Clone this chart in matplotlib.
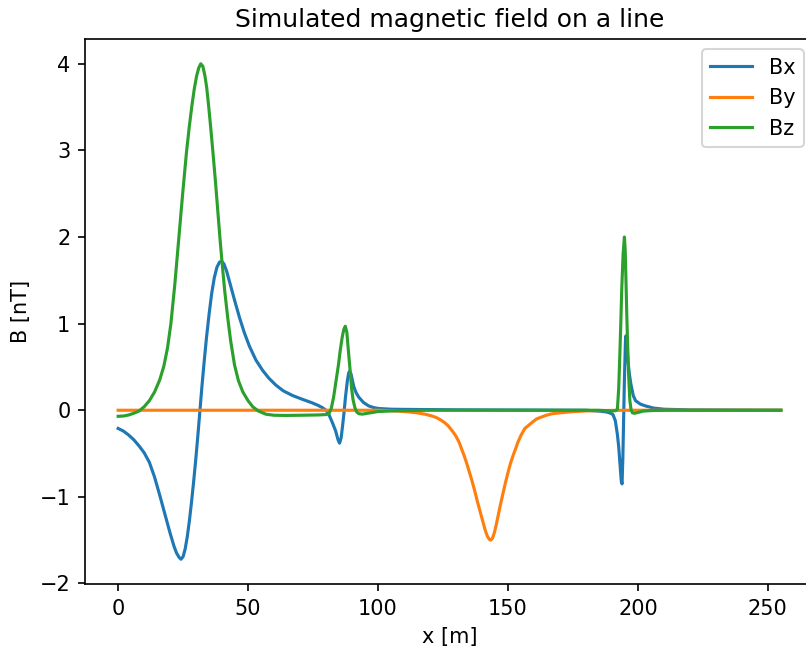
import matplotlib
matplotlib.use("Agg")
import matplotlib.pyplot as plt

# Bx series (x in m, value in nT)
bx_x = [0, 2, 4, 6, 8, 10, 12, 14, 16, 18, 20, 21.5, 22.5, 23.5, 24.2, 25, 25.8, 26.6,
        27.4, 28.2, 29, 29.8, 30.6, 31.4, 32.2, 33.1, 34, 35, 36, 37, 38, 39, 39.8, 40.7,
        41.7, 42.9, 44.8, 46.7, 48.5, 50.5, 53, 55.6, 58, 60.7, 63.5, 67.1, 71, 74.7, 77,
        78.6, 80, 81.1, 82.4, 83.7, 84.6, 85.2, 85.8, 86.4, 86.9, 87.5, 88.2, 88.7, 89.1,
        89.6, 90.1, 90.7, 91.6, 92.6, 94.4, 96.4, 98.4, 100.3, 105, 110, 130, 160, 180, 185,
        188, 189.5, 190.4, 191.3, 192.1, 192.6, 193.1, 193.6, 193.9, 194.2, 194.5, 194.8,
        195.2, 195.4, 195.7, 196.2, 196.7, 197.3, 198.2, 199.1, 201, 202.9, 206, 210, 220,
        255]
bx_y = [-0.21, -0.24, -0.285, -0.34, -0.41, -0.49, -0.60, -0.77, -0.98, -1.20, -1.42,
        -1.57, -1.65, -1.70, -1.72, -1.69, -1.60, -1.46, -1.28, -1.07, -0.84, -0.59, -0.32,
        -0.03, 0.26, 0.56, 0.84, 1.11, 1.35, 1.53, 1.65, 1.71, 1.72, 1.69, 1.61, 1.48, 1.27,
        1.07, 0.90, 0.74, 0.58, 0.46, 0.37, 0.29, 0.225, 0.17, 0.125, 0.085, 0.055, 0.03,
        0.0, -0.05, -0.14, -0.24, -0.34, -0.38, -0.32, -0.17, -0.03, 0.16, 0.34, 0.43, 0.45,
        0.42, 0.35, 0.27, 0.20, 0.15, 0.09, 0.05, 0.03, 0.02, 0.012, 0.01, 0.005, 0.002, 0.0,
        -0.01, -0.02, -0.035, -0.05, -0.12, -0.28, -0.42, -0.62, -0.82, -0.85, -0.55, -0.10,
        0.35, 0.80, 0.86, 0.78, 0.56, 0.42, 0.30, 0.17, 0.11, 0.07, 0.05, 0.025, 0.012,
        0.004, 0.0]

# By series
by_x = [0, 100, 104, 108, 112, 115, 118, 120.7, 122.5, 124, 125.5, 127, 128.6, 130, 131.2,
        132.2, 133.2, 134.2, 135.2, 136.2, 137.2, 138.2, 139.2, 140.2, 141.2, 142, 142.8,
        143.3, 144, 144.8, 145.5, 146.2, 147.1, 148, 149, 150, 151, 152, 153, 153.8, 155,
        156.5, 158.9, 161, 164.7, 167, 170, 175, 180, 185, 190, 195, 255]
by_y = [0.0, 0.0, -0.004, -0.01, -0.02, -0.03, -0.045, -0.066, -0.085, -0.11, -0.14, -0.18,
        -0.24, -0.30, -0.37, -0.45, -0.53, -0.62, -0.72, -0.82, -0.93, -1.05, -1.16, -1.27,
        -1.38, -1.45, -1.49, -1.50, -1.48, -1.41, -1.32, -1.22, -1.09, -0.97, -0.84, -0.72,
        -0.61, -0.52, -0.44, -0.37, -0.29, -0.21, -0.15, -0.10, -0.058, -0.04, -0.03, -0.016,
        -0.008, -0.004, -0.002, 0.0, 0.0]

# Bz series
bz_x = [0, 2, 4, 6, 8, 10, 12, 14, 16, 17.6, 19, 20.3, 21.8, 23.3, 24.8, 26.3, 27.4, 28.4,
        29.3, 30.2, 31, 31.8, 32.6, 33.4, 34.1, 34.8, 35.6, 36.5, 37.5, 38.4, 39.2, 40, 41,
        42.2, 43.3, 44.8, 46.3, 48, 50, 51.8, 54, 56.9, 60, 64.5, 70, 77.3, 80, 81.1, 82,
        82.9, 83.8, 84.8, 85.5, 86.2, 86.8, 87.4, 88, 88.5, 89.2, 89.8, 90.4, 91.1, 91.8,
        92.6, 94, 97, 100, 105, 110, 120, 185, 188, 190, 191.3, 192.1, 192.6, 193, 193.4,
        193.8, 194.3, 194.8, 195.1, 195.4, 195.7, 196, 196.4, 196.9, 197.4, 197.9, 198.6,
        199.5, 202, 205, 210, 255]
bz_y = [-0.07, -0.067, -0.055, -0.035, -0.01, 0.04, 0.11, 0.21, 0.35, 0.51, 0.72, 1.0, 1.45,
        1.97, 2.49, 2.98, 3.28, 3.52, 3.71, 3.86, 3.95, 4.0, 3.97, 3.86, 3.72, 3.52, 3.27,
        2.97, 2.62, 2.28, 1.98, 1.70, 1.38, 1.06, 0.80, 0.52, 0.34, 0.21, 0.11, 0.04, -0.01,
        -0.046, -0.058, -0.06, -0.058, -0.054, -0.05, -0.04, 0.02, 0.15, 0.33, 0.53, 0.70,
        0.84, 0.93, 0.97, 0.90, 0.72, 0.48, 0.26, 0.12, 0.03, -0.02, -0.04, -0.045, -0.03,
        -0.015, -0.008, -0.004, 0.0, 0.0, -0.005, -0.01, -0.005, 0.01, 0.25, 0.6, 0.99, 1.42,
        1.8, 2.0, 1.85, 1.5, 1.12, 0.8, 0.42, 0.11, 0.0, -0.03, -0.035, -0.03, -0.01, -0.004,
        0.0, 0.0]

series_names = ["Bx", "By", "Bz"]

DPI = 150
fig = plt.figure(figsize=(806 / DPI, 650 / DPI), dpi=DPI)
ax = fig.add_axes([85 / 806, 1 - 584 / 650, (814 - 85) / 806, (584 - 39) / 650])
ax.plot(bx_x, bx_y, label=series_names[0])
ax.plot(by_x, by_y, label=series_names[1])
ax.plot(bz_x, bz_y, label=series_names[2])
ax.set_title("Simulated magnetic field on a line")
ax.set_xlabel("x [m]")
ax.set_ylabel("B [nT]")
ax.legend(loc="upper right")
fig.savefig("out.png", dpi=DPI)
